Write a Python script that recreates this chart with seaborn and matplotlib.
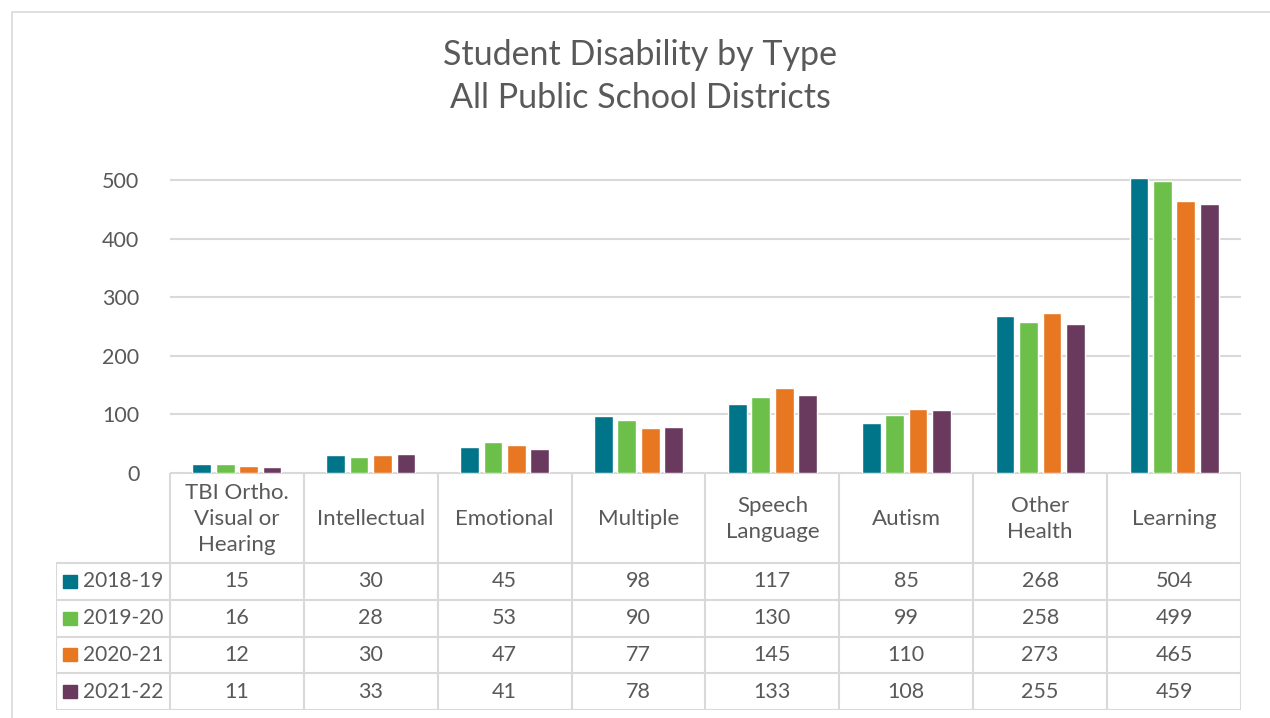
import pandas as pd
import seaborn as sns
import matplotlib.pyplot as plt
from matplotlib.patches import Rectangle

categories = ["TBI Ortho.\nVisual or\nHearing", "Intellectual", "Emotional", "Multiple",
              "Speech\nLanguage", "Autism", "Other\nHealth", "Learning"]
years = ["2018-19", "2019-20", "2020-21", "2021-22"]
v_2018 = [15, 30, 45, 98, 117, 85, 268, 504]
v_2019 = [16, 28, 53, 90, 130, 99, 258, 499]
v_2020 = [12, 30, 47, 77, 145, 110, 273, 465]
v_2021 = [11, 33, 41, 78, 133, 108, 255, 459]
colors = ["#00758A", "#6CC04A", "#E87722", "#6A3A5E"]

series = [v_2018, v_2019, v_2020, v_2021]
df = pd.DataFrame(
    [(c, y, v) for y, vals in zip(years, series) for c, v in zip(categories, vals)],
    columns=["category", "year", "count"],
)

sns.set_theme(style="white")
plt.rcParams["font.family"] = ["Lato", "DejaVu Sans"]
text_color = "#595959"
grid_color = "#D9D9D9"

W, H = 1270, 718
fig = plt.figure(figsize=(W / 100, H / 100), dpi=100)

# outer chart frame
fig.add_artist(Rectangle((12 / W, -0.05), 1.2, 1 - 12 / H + 0.05, transform=fig.transFigure,
                         fill=False, edgecolor=grid_color, lw=1.2))

px_per_unit = 58.6 / 100
ymax = 510
ax_h = ymax * px_per_unit
ax = fig.add_axes([170 / W, (H - 473) / H, (1241 - 170) / W, ax_h / H])
sns.barplot(data=df, x="category", y="count", hue="year", order=categories,
            hue_order=years, palette=colors, width=0.7, gap=0.2, legend=False,
            saturation=1, ax=ax)
ax.set_xlim(-0.5, len(categories) - 0.5)
ax.set_ylim(0, ymax)
ax.set_yticks([0, 100, 200, 300, 400, 500])
ax.yaxis.grid(True, color=grid_color, lw=1.5)
ax.set_axisbelow(True)
ax.tick_params(axis="y", labelsize=15.5, labelcolor=text_color, length=0, pad=22)
ax.set_xticks([])
ax.set_xlabel("")
ax.set_ylabel("")
for s in ax.spines.values():
    s.set_visible(False)

fig.text(640 / W, 1 - 55 / H, "Student Disability by Type", ha="center", va="center",
         fontsize=24.5, color=text_color)
fig.text(640 / W, 1 - 98 / H, "All Public School Districts", ha="center", va="center",
         fontsize=24.5, color=text_color)

# data table below the bars
leg_w = (170 - 56) / 134
tab = fig.add_axes([56 / W, (H - 710) / H, (1241 - 56) / W, (710 - 473) / H])
n = len(categories)
tab.set_xlim(-0.5 - leg_w, n - 0.5)
tab.set_ylim(0, 237)
tab.axis("off")
header_h = 90
row_h = (237 - header_h) / len(years)
lk = dict(color=grid_color, lw=1.5, solid_capstyle="butt")
tab.plot([-0.5, n - 0.5], [237, 237], **lk)
for k in range(len(years) + 1):
    yy = 237 - header_h - k * row_h
    tab.plot([-0.5 - leg_w, n - 0.5], [yy, yy], **lk)
for k in range(n + 1):
    tab.plot([-0.5 + k, -0.5 + k], [0, 237], **lk)
tab.plot([-0.5 - leg_w, -0.5 - leg_w], [0, 237 - header_h], **lk)

for i, c in enumerate(categories):
    tab.text(i, 237 - header_h / 2 - 1, c, ha="center", va="center", fontsize=16,
             color=text_color, linespacing=1.38)
for r, (y, vals, col) in enumerate(zip(years, series, colors)):
    yc = 237 - header_h - (r + 0.5) * row_h
    tab.add_patch(Rectangle((-0.5 - leg_w + 0.055, yc - 6.5), 0.1, 13, color=col))
    tab.text(-0.5 - leg_w + 0.2, yc, y, ha="left", va="center", fontsize=15, color=text_color)
    for i, v in enumerate(vals):
        tab.text(i, yc, str(v), ha="center", va="center", fontsize=15.5, color=text_color)

fig.savefig("out.png", dpi=100, facecolor="white")
